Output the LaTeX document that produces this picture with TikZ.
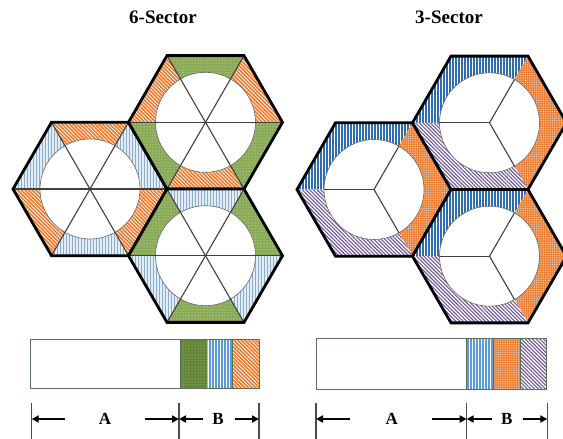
\documentclass[tikz,border=0pt]{standalone}
\usepackage{fontspec}
\setmainfont{Liberation Serif}
\usetikzlibrary{arrows.meta,patterns.meta}

\definecolor{sectorange}{RGB}{237,125,49}
\definecolor{sectgreen}{RGB}{137,170,85}
\definecolor{bargreen}{RGB}{98,132,52}
\definecolor{paleblue}{RGB}{226,236,245}
\definecolor{lineblue}{RGB}{140,172,205}
\definecolor{brightblue}{RGB}{91,155,213}
\definecolor{deepblue}{RGB}{46,110,175}
\definecolor{sectpurple}{RGB}{110,85,155}
\definecolor{barframe}{RGB}{88,112,88}

\tikzset{
  hexline/.style={line width=2.8pt, line join=miter, black},
  sectline/.style={line width=1.1pt, black!75},
  ringline/.style={line width=0.6pt, black!60},
  sixorange/.style={preaction={fill=sectorange}, pattern={Lines[angle=-45,distance=2.6pt,line width=0.7pt]}, pattern color=white},
  sixgreen/.style={preaction={fill=sectgreen}, pattern={Dots[radius=0.5pt,distance=3pt]}, pattern color=white!85!sectgreen},
  sixblue/.style={preaction={fill=paleblue}, pattern={Lines[angle=90,distance=3pt,line width=0.8pt]}, pattern color=lineblue},
  threeblue/.style={preaction={fill=white}, pattern={Lines[angle=90,distance=3pt,line width=1.3pt]}, pattern color=deepblue},
  threeorange/.style={preaction={fill=sectorange}, pattern={Dots[radius=0.5pt,distance=1.8pt]}, pattern color=white!75!sectorange},
  threepurple/.style={preaction={fill=white}, pattern={Lines[angle=-45,distance=2.6pt,line width=1.1pt]}, pattern color=sectpurple},
  bargreenfill/.style={preaction={fill=bargreen}, pattern={Dots[radius=0.5pt,distance=3pt]}, pattern color=white!70!bargreen},
  barbluefill/.style={preaction={fill=white}, pattern={Lines[angle=90,distance=3pt,line width=1.2pt]}, pattern color=brightblue},
  barline/.style={line width=0.8pt, barframe},
  tickline/.style={line width=1.3pt, black!70},
  dimarrow/.style={-{Triangle[length=7pt,width=7pt]}, line width=1.8pt},
  titletext/.style={font=\fontsize{19}{22}\selectfont\bfseries},
  dimtext/.style={font=\fontsize{17}{20}\selectfont\bfseries}
}

% centre x, centre y, even sectors, odd sectors
\newcommand{\sixhex}[4]{%
  \foreach \k in {0,2,4}
    \fill[#3] (#1,#2) -- +(60*\k:77) -- +(60*\k+60:77) -- cycle;
  \foreach \k in {1,3,5}
    \fill[#4] (#1,#2) -- +(60*\k:77) -- +(60*\k+60:77) -- cycle;
  \fill[white] (#1,#2) circle[radius=50];
  \draw[ringline] (#1,#2) circle[radius=50];
  \foreach \k in {0,1,2}
    \draw[sectline] (#1,#2) +(60*\k:77) -- +(60*\k+180:77);
  \draw[hexline] (#1,#2) +(0:77) -- +(60:77) -- +(120:77) -- +(180:77) -- +(240:77) -- +(300:77) -- cycle;
}

% centre x, centre y
\newcommand{\threehex}[2]{%
  \fill[threeblue] (#1,#2) -- +(180:77) -- +(240:77) -- +(300:77) -- cycle;
  \fill[threeorange] (#1,#2) -- +(300:77) -- +(0:77) -- +(60:77) -- cycle;
  \fill[threepurple] (#1,#2) -- +(60:77) -- +(120:77) -- +(180:77) -- cycle;
  \fill[white] (#1,#2) circle[radius=50];
  \draw[ringline] (#1,#2) circle[radius=50];
  \foreach \a in {60,180,300}
    \draw[sectline] (#1,#2) -- +(\a:50);
  \draw[hexline] (#1,#2) +(0:77) -- +(60:77) -- +(120:77) -- +(180:77) -- +(240:77) -- +(300:77) -- cycle;
}

\begin{document}
\begin{tikzpicture}[x=1pt,y=-1pt]
\useasboundingbox (0,0) rectangle (563,439);

% titles
\node[titletext] (sixtitle) at (163,17) {6-Sector};
\node[titletext] (threetitle) at (449,17) {3-Sector};

% 6-sector cluster
\sixhex{90}{189}{sixorange}{sixblue}
\sixhex{205.5}{122.3}{sixgreen}{sixorange}
\sixhex{205.5}{255.7}{sixblue}{sixgreen}

% 3-sector cluster
\threehex{374}{189.5}
\threehex{489.5}{122.8}
\threehex{489.5}{256.2}

% 6-sector bar
\fill[white] (30.7,339) rectangle (180,388);
\fill[bargreenfill] (180,339) rectangle (207.3,388);
\fill[barbluefill] (207.3,339) rectangle (232.3,388);
\fill[sixorange] (232.3,339) rectangle (259,388);
\draw[barline] (180,339) -- (180,388);
\draw[barline] (232.3,339) -- (232.3,388);
\draw[barline] (30.7,339) rectangle (259,388);

% 3-sector bar
\fill[white] (316.7,338) rectangle (466.7,389);
\fill[barbluefill] (466.7,338) rectangle (493.3,389);
\fill[threeorange] (493.3,338) rectangle (520,389);
\fill[threepurple] (520,338) rectangle (546.7,389);
\draw[barline] (466.7,338) -- (466.7,389);
\draw[barline] (493.3,338) -- (493.3,389);
\draw[barline] (520,338) -- (520,389);
\draw[barline] (316.7,338) rectangle (546.7,389);

% 6-sector dimensions
\coordinate (sa) at (31.7,419);
\coordinate (sm) at (179,419);
\coordinate (sb) at (259,419);
\coordinate (sa1) at (65,419);
\coordinate (sa2) at (145,419);
\coordinate (sb1) at (202.7,419);
\coordinate (sb2) at (235,419);
\draw[tickline] (31.7,403) -- (31.7,439);
\draw[tickline] (179,403) -- (179,439);
\draw[tickline] (259,403) -- (259,439);
\draw[dimarrow] (sa1) -- (sa);
\draw[dimarrow] (sa2) -- (sm);
\draw[dimarrow] (sb1) -- (sm);
\draw[dimarrow] (sb2) -- (sb);
\node[dimtext] (sixa) at (105,419) {A};
\node[dimtext] (sixb) at (218,419) {B};

% 3-sector dimensions
\coordinate (ta) at (316,419);
\coordinate (tm) at (466.7,419);
\coordinate (tb) at (547.3,419);
\coordinate (ta1) at (350,419);
\coordinate (ta2) at (431.7,419);
\coordinate (tb1) at (491.7,419);
\coordinate (tb2) at (523.3,419);
\draw[tickline] (316,403) -- (316,439);
\draw[tickline] (466.7,403) -- (466.7,439);
\draw[tickline] (547.3,403) -- (547.3,439);
\draw[dimarrow] (ta1) -- (ta);
\draw[dimarrow] (ta2) -- (tm);
\draw[dimarrow] (tb1) -- (tm);
\draw[dimarrow] (tb2) -- (tb);
\node[dimtext] (threea) at (391.7,419) {A};
\node[dimtext] (threeb) at (506.7,419) {B};
\end{tikzpicture}
\end{document}
